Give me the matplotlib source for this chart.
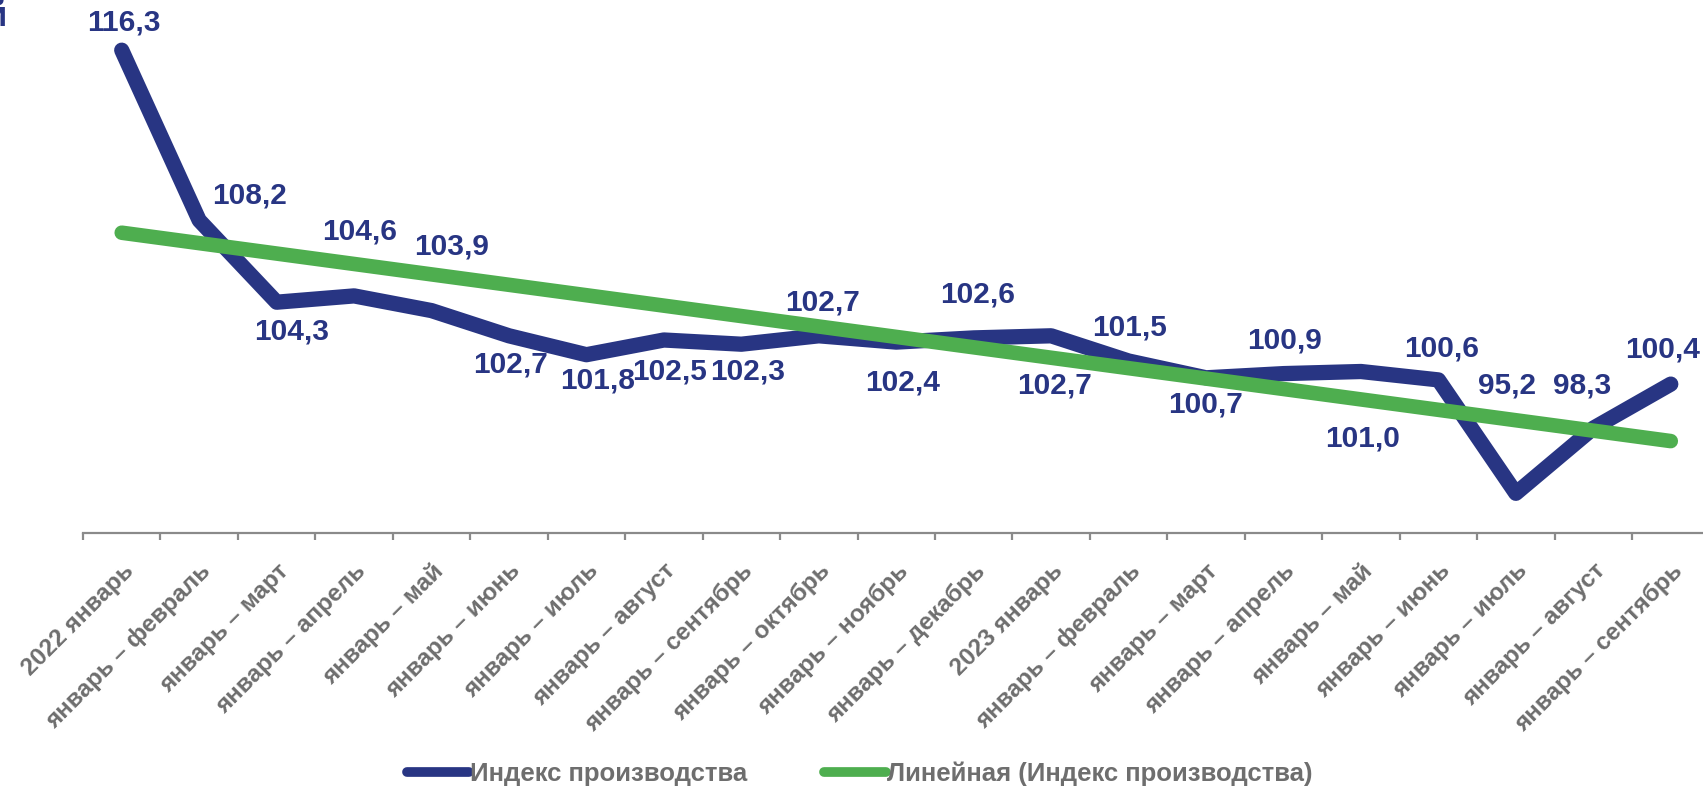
import matplotlib.pyplot as plt
import numpy as np

# categories (cumulative periods) and production index values
categories = ['2022 январь', 'январь – февраль', 'январь – март', 'январь – апрель',
              'январь – май', 'январь – июнь', 'январь – июль', 'январь – август',
              'январь – сентябрь', 'январь – октябрь', 'январь – ноябрь', 'январь – декабрь',
              '2023 январь', 'январь – февраль', 'январь – март', 'январь – апрель',
              'январь – май', 'январь – июнь', 'январь – июль', 'январь – август',
              'январь – сентябрь']
index_values = [116.3, 108.2, 104.3, 104.6, 103.9, 102.7, 101.8, 102.5, 102.3, 102.7,
                102.4, 102.6, 102.7, 101.5, 100.7, 100.9, 101.0, 100.6, 95.2, 98.3, 100.4]
series_name = 'Индекс производства'
trend_name = 'Линейная (Индекс производства)'

# label offsets in pixels (dx right, dy down) relative to the point
label_dx = [2, 50, 15, 6, 20, 2, 11, 6, 6, 4, 6, 4, 3, 1, 0, 1, 2, 3, -9, -11, -8]
label_dy = [-28, -25, 29, -64, -64, 29, 26, 31, 27, -33, 40, -43, 50, -34, 27, -33, 67, -31, -108, -43, -35]

navy = '#283583'
green = '#4eae4f'
grey = '#6e6e6e'

plt.rcParams['font.family'] = ['Liberation Sans', 'DejaVu Sans']

fig = plt.figure(figsize=(17.03, 7.86), dpi=100)
ax = fig.add_axes([83/1703, 1 - 533/786, 1626.5/1703, 533/786])

x = np.arange(len(index_values))
ax.plot(x, index_values, color=navy, lw=11, solid_capstyle='round',
        solid_joinstyle='round', label=series_name, zorder=2)

# linear trendline, as in the spreadsheet
k, b = np.polyfit(x, index_values, 1)
ax.plot(x, k*x + b, color=green, lw=10.5, solid_capstyle='round',
        label=trend_name, zorder=3)

for i, v in enumerate(index_values):
    ax.annotate(f'{v:.1f}'.replace('.', ','), (x[i], v),
                xytext=(label_dx[i], -label_dy[i]), textcoords='offset pixels',
                ha='center', va='center', fontsize=21.5, fontweight='bold',
                color=navy, annotation_clip=False, zorder=4)

ax.set_xlim(-0.5, len(index_values) - 0.5)
ax.set_ylim(93.31, 118.69)
for s in ['left', 'right', 'top']:
    ax.spines[s].set_visible(False)
ax.spines['bottom'].set_color('#8a8a8a')
ax.spines['bottom'].set_linewidth(1.6)
ax.set_yticks([])

ax.set_xticks(x)
ax.set_xticklabels(categories, rotation=45, ha='right', va='top',
                   rotation_mode='anchor', fontsize=17.5, fontweight='bold', color=grey)
ax.tick_params(axis='x', which='major', length=0, pad=19)
ax.set_xticks(np.arange(-0.5, len(index_values)), minor=True)
ax.tick_params(axis='x', which='minor', length=5, width=1.6, color='#8a8a8a')

leg = fig.legend(loc='lower center', bbox_to_anchor=(0.505, -0.03), ncol=2,
                 frameon=False, handlelength=2.4, handletextpad=0.05,
                 columnspacing=3.0, prop={'size': 18.5, 'weight': 'bold'})
for t in leg.get_texts():
    t.set_color(grey)
for h in leg.legend_handles:
    h.set_linewidth(7)

# cut-off piece of the title at the top-left corner
fig.text(7/1703, 1 - 16/786, 'й', ha='right', va='center', fontsize=25,
         fontweight='bold', color=navy)

fig.savefig('out.png', dpi=100)
